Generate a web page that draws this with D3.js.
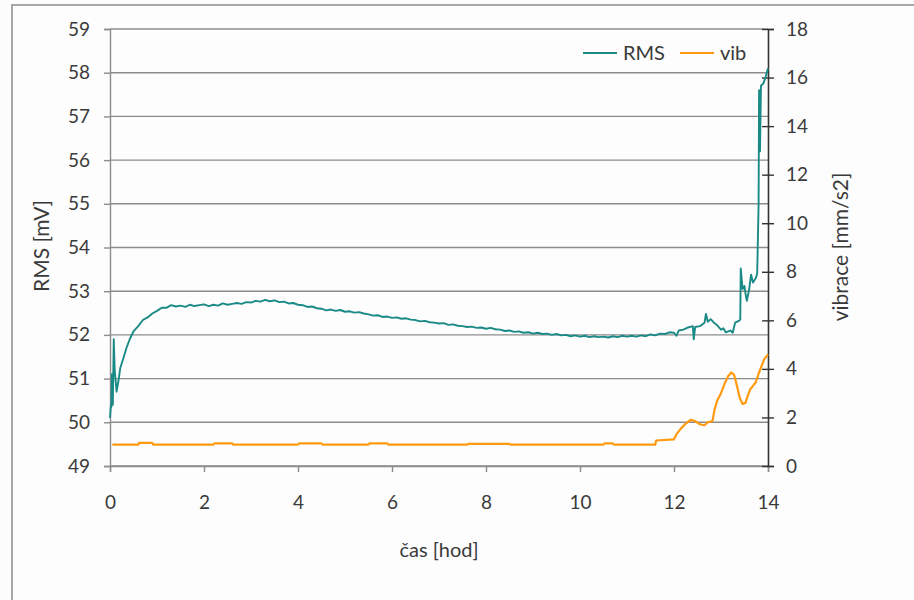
<!DOCTYPE html>
<html>
<head>
<meta charset="utf-8">
<script src="https://cdn.jsdelivr.net/npm/d3@7"></script>
<style>
  body { margin: 0; background: #fff; }
  text { font-family: Lato, "Open Sans", sans-serif; fill: #3a3a3a; }
</style>
</head>
<body>
<div id="chart"></div>
<script>
// RMS signal [mV], left axis
const rmsTime = [0.00, 0.02, 0.03, 0.04, 0.06, 0.08, 0.10, 0.14, 0.18, 0.22, 0.28, 0.35, 0.42, 0.50, 0.60, 0.70, 0.80, 0.90,
  1.0, 1.1, 1.2, 1.3, 1.4, 1.5, 1.6, 1.7, 1.8, 1.9, 2.0, 2.1, 2.2, 2.3, 2.4, 2.5, 2.6, 2.7, 2.8, 2.9,
  3.0, 3.1, 3.2, 3.3, 3.4, 3.5, 3.6, 3.7, 3.8, 3.9, 4.0, 4.1, 4.2, 4.3, 4.4, 4.5, 4.6, 4.7, 4.8, 4.9,
  5.0, 5.1, 5.2, 5.3, 5.4, 5.5, 5.6, 5.7, 5.8, 5.9, 6.0, 6.1, 6.2, 6.3, 6.4, 6.5, 6.6, 6.7, 6.8, 6.9,
  7.0, 7.1, 7.2, 7.3, 7.4, 7.5, 7.6, 7.7, 7.8, 7.9, 8.0, 8.1, 8.2, 8.3, 8.4, 8.5, 8.6, 8.7, 8.8, 8.9,
  9.0, 9.1, 9.2, 9.3, 9.4, 9.5, 9.6, 9.7, 9.8, 9.9, 10.0, 10.1, 10.2, 10.3, 10.4, 10.5, 10.6, 10.7, 10.8, 10.9,
  11.0, 11.1, 11.2, 11.3, 11.4, 11.5, 11.6, 11.7, 11.8, 11.9, 12.0,
  12.05, 12.10, 12.20, 12.30, 12.40, 12.42, 12.45, 12.55, 12.65, 12.68, 12.72, 12.78, 12.85, 12.90,
  13.00, 13.05, 13.10, 13.20, 13.25, 13.30, 13.38, 13.41, 13.42, 13.46, 13.50, 13.52, 13.55, 13.60, 13.64, 13.68,
  13.74, 13.77, 13.80, 13.81, 13.83, 13.85, 13.90, 13.95, 14.00];
const rmsValue = [50.10, 50.40, 50.35, 51.10, 50.40, 51.90, 51.20, 50.70, 50.95, 51.25, 51.45, 51.70, 51.90, 52.08, 52.20, 52.34, 52.40, 52.49,
  52.55, 52.62, 52.62, 52.68, 52.65, 52.67, 52.64, 52.69, 52.66, 52.68, 52.70, 52.66, 52.69, 52.67, 52.72, 52.69, 52.71, 52.73, 52.71, 52.75,
  52.74, 52.78, 52.76, 52.80, 52.77, 52.79, 52.75, 52.76, 52.72, 52.73, 52.69, 52.68, 52.64, 52.65, 52.61, 52.60, 52.56, 52.58, 52.55, 52.57,
  52.53, 52.54, 52.51, 52.52, 52.49, 52.47, 52.44, 52.45, 52.41, 52.42, 52.39, 52.40, 52.37, 52.38, 52.35, 52.34, 52.31, 52.32, 52.29, 52.28,
  52.26, 52.27, 52.23, 52.24, 52.21, 52.20, 52.18, 52.19, 52.16, 52.17, 52.14, 52.16, 52.13, 52.12, 52.09, 52.10, 52.07, 52.08, 52.05, 52.06,
  52.03, 52.05, 52.02, 52.03, 52.00, 52.02, 51.99, 52.00, 51.97, 51.99, 51.96, 51.98, 51.95, 51.97, 51.95, 51.96, 51.94, 51.97, 51.95, 51.98,
  51.96, 51.98, 51.96, 51.99, 51.97, 52.01, 51.99, 52.03, 52.02, 52.06, 52.05,
  51.98, 52.10, 52.12, 52.17, 52.20, 51.90, 52.18, 52.20, 52.28, 52.48, 52.30, 52.36, 52.28, 52.24,
  52.12, 52.15, 52.06, 52.10, 52.05, 52.28, 52.32, 52.35, 53.52, 53.05, 53.12, 52.95, 52.78, 53.05, 53.38, 53.20,
  53.30, 53.40, 55.00, 57.60, 56.20, 57.70, 57.75, 57.90, 58.10];

// vibrations [mm/s2], right axis
const vibTime = [0.05, 0.60, 0.62, 0.90, 0.92, 2.20, 2.22, 2.60, 2.62, 4.00, 4.02, 4.50, 4.52, 5.50, 5.52, 5.90, 5.92,
  7.60, 7.62, 8.50, 8.52, 10.50, 10.52, 10.70, 10.72, 11.60, 11.62, 12.00, 12.05, 12.15,
  12.25, 12.35, 12.45, 12.55, 12.65, 12.72, 12.82, 12.86, 12.92, 13.00, 13.08, 13.15, 13.22, 13.28, 13.34, 13.40,
  13.46, 13.52, 13.57, 13.62, 13.68, 13.74, 13.80, 13.86, 13.92, 14.00];
const vibValue = [0.88, 0.88, 0.95, 0.95, 0.88, 0.88, 0.93, 0.93, 0.88, 0.88, 0.93, 0.93, 0.88, 0.88, 0.93, 0.93, 0.88,
  0.88, 0.91, 0.91, 0.88, 0.88, 0.93, 0.93, 0.88, 0.88, 1.05, 1.10, 1.30, 1.55,
  1.75, 1.90, 1.85, 1.72, 1.68, 1.80, 1.85, 2.30, 2.70, 3.00, 3.40, 3.70, 3.85, 3.75, 3.30, 2.80,
  2.55, 2.60, 2.90, 3.15, 3.30, 3.45, 3.80, 4.10, 4.40, 4.60];

const xTicks = [0, 2, 4, 6, 8, 10, 12, 14];
const leftTicks = [49, 50, 51, 52, 53, 54, 55, 56, 57, 58, 59];
const rightTicks = [0, 2, 4, 6, 8, 10, 12, 14, 16, 18];

const rmsColor = '#1a8a86';
const vibColor = '#ff9a10';

const W = 914, H = 600;
const margin = { top: 29, right: 146, bottom: 134, left: 110 };
const width = W - margin.left - margin.right;
const height = H - margin.top - margin.bottom;

const svg = d3.select('#chart').append('svg')
  .attr('width', W)
  .attr('height', H);

// outer frame
svg.append('rect')
  .attr('x', 0).attr('y', 0).attr('width', W).attr('height', H)
  .attr('fill', '#fcfcfc');
svg.append('rect')
  .attr('x', 12).attr('y', 5).attr('width', W).attr('height', H)
  .attr('fill', '#fdfdfd')
  .attr('stroke', '#a8a8a8')
  .attr('stroke-width', 2);

const g = svg.append('g')
  .attr('transform', `translate(${margin.left},${margin.top})`);

const x = d3.scaleLinear().domain([0, 14]).range([0, width]);
const yL = d3.scaleLinear().domain([49, 59]).range([height, 0]);
const yR = d3.scaleLinear().domain([0, 18]).range([height, 0]);

// gridlines
g.append('g')
  .selectAll('line')
  .data(leftTicks)
  .enter()
  .append('line')
  .attr('x1', 0).attr('x2', width)
  .attr('y1', d => yL(d)).attr('y2', d => yL(d))
  .attr('stroke', '#8c8c8c')
  .attr('stroke-width', 1.4);

// bottom axis
const xAxis = g.append('g')
  .attr('transform', `translate(0,${height})`)
  .call(d3.axisBottom(x).tickValues(xTicks).tickSize(6).tickPadding(24));
xAxis.selectAll('line').attr('stroke', '#8c8c8c').attr('stroke-width', 1.4);
xAxis.select('.domain').attr('stroke', '#8c8c8c').attr('stroke-width', 1.4);

// left axis
const leftAxis = g.append('g')
  .call(d3.axisLeft(yL).tickValues(leftTicks).tickSize(6).tickPadding(14));
leftAxis.selectAll('line').attr('stroke', '#8c8c8c').attr('stroke-width', 1.4);
leftAxis.select('.domain').attr('stroke', '#8c8c8c').attr('stroke-width', 1.4);

// right axis
const rightAxis = g.append('g')
  .attr('transform', `translate(${width},0)`)
  .call(d3.axisRight(yR).tickValues(rightTicks).tickSize(6).tickPadding(12));
rightAxis.selectAll('.tick line').attr('x1', -6).attr('stroke', '#333').attr('stroke-width', 1.4);
rightAxis.select('.domain').attr('stroke', '#333').attr('stroke-width', 1.6);

g.selectAll('.tick text')
  .style('font-size', '19px')
  .attr('fill', '#3a3a3a');

// lines
const rmsData = rmsTime.map((t, i) => [t, rmsValue[i]]);
const vibData = vibTime.map((t, i) => [t, vibValue[i]]);

g.append('path')
  .datum(vibData)
  .attr('fill', 'none')
  .attr('stroke', vibColor)
  .attr('stroke-width', 2.2)
  .attr('stroke-linejoin', 'round')
  .attr('d', d3.line().x(d => x(d[0])).y(d => yR(d[1])));

g.append('path')
  .datum(rmsData)
  .attr('fill', 'none')
  .attr('stroke', rmsColor)
  .attr('stroke-width', 1.9)
  .attr('stroke-linejoin', 'round')
  .attr('d', d3.line().x(d => x(d[0])).y(d => yL(d[1])));

// axis titles
svg.append('text')
  .attr('transform', 'translate(49,246) rotate(-90)')
  .attr('text-anchor', 'middle')
  .style('font-size', '21px')
  .text('RMS [mV]');

svg.append('text')
  .attr('transform', 'translate(848,247) rotate(-90)')
  .attr('text-anchor', 'middle')
  .style('font-size', '21px')
  .text('vibrace [mm/s2]');

svg.append('text')
  .attr('x', 439).attr('y', 557)
  .attr('text-anchor', 'middle')
  .style('font-size', '20px')
  .text('čas [hod]');

// legend
const legend = svg.append('g').attr('transform', 'translate(583,53)');
const items = [{ name: 'RMS', color: rmsColor, x: 0 }, { name: 'vib', color: vibColor, x: 97 }];
items.forEach(it => {
  legend.append('line')
    .attr('x1', it.x).attr('x2', it.x + 34)
    .attr('y1', 0).attr('y2', 0)
    .attr('stroke', it.color)
    .attr('stroke-width', 2.2);
  legend.append('text')
    .attr('x', it.x + 40).attr('y', 7)
    .style('font-size', '20px')
    .text(it.name);
});
</script>
</body>
</html>
